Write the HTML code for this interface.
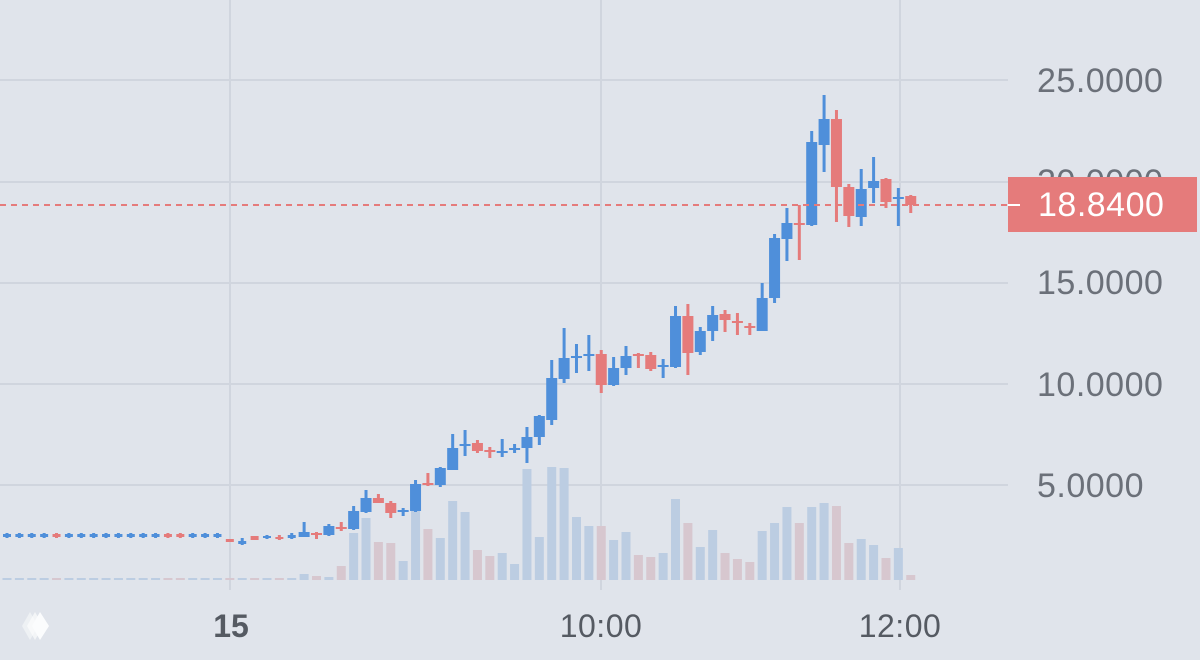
<!DOCTYPE html>
<html><head><meta charset="utf-8">
<style>
html,body{margin:0;padding:0;background:#e0e4eb;}
svg{display:block;}
text{font-family:"Liberation Sans",sans-serif;}
</style></head>
<body>
<svg id="c" width="1200" height="660" xmlns="http://www.w3.org/2000/svg">
<rect width="1200" height="660" fill="#e0e4eb"/>
<g stroke="#d0d5de" stroke-width="2">
<line x1="0" y1="80" x2="1008" y2="80"/>
<line x1="0" y1="182" x2="1008" y2="182"/>
<line x1="0" y1="283" x2="1008" y2="283"/>
<line x1="0" y1="384" x2="1008" y2="384"/>
<line x1="0" y1="485" x2="1008" y2="485"/>
<line x1="230" y1="0" x2="230" y2="590"/>
<line x1="601" y1="0" x2="601" y2="590"/>
<line x1="900" y1="0" x2="900" y2="590"/>
</g>
<g id="vol"></g>
<g id="cnd"></g>
<line x1="0" y1="205" x2="1008" y2="205" stroke="#e57b7b" stroke-width="2" stroke-dasharray="6,5"/>
<g fill="#6b7079" font-size="34" letter-spacing="0.5">
<text x="1037" y="92">25.0000</text>
<text x="1037" y="193">20.0000</text>
<text x="1037" y="294">15.0000</text>
<text x="1037" y="396">10.0000</text>
<text x="1037" y="497">5.0000</text>
</g>
<rect x="1008" y="177" width="189" height="55" fill="#e57b7b"/>
<line x1="1008" y1="205" x2="1020" y2="205" stroke="#fff" stroke-width="2"/>
<text x="1038" y="216" fill="#fff" font-size="34" letter-spacing="0.5">18.8400</text>
<text x="231" y="637" fill="#555a62" font-size="32" font-weight="bold" text-anchor="middle">15</text>
<text x="601" y="637" fill="#555a62" font-size="32" letter-spacing="0.5" text-anchor="middle">10:00</text>
<text x="900" y="637" fill="#555a62" font-size="32" letter-spacing="0.5" text-anchor="middle">12:00</text>
<g fill="#fff" opacity="0.9">
<polygon points="30,612 38,626 30,640 22,626" opacity="0.5"/>
<polygon points="35,612 43,626 35,640 27,626" opacity="0.7"/>
<polygon points="40,612 49,626 40,640 32,626"/>
</g>
</svg>
<script>
var B="#4f8fda",R="#e57b7b",VB="#bccde2",VR="#d7c7cf";
var d=[];
var reds={4:1,13:1,14:1};
for(var i=0;i<18;i++){d.push([reds[i]?R:B,534,537,533,538]);}
d=d.concat([
[R,539,542,539,542],[B,541,544,538,545],[R,536,540,536,540],[B,536,538,535,539],[R,537,539,535,540],[B,535,538,533,539],
[B,532,537,522,537],[R,533,535,532,539],[B,526,535,524,536],[R,527,529,522,531],[B,511,529,506,530],[B,498,512,490,513],
[R,498,503,494,503],[R,503,513,501,518],[B,510,512,508,516],[B,484,511,480,512],[R,483,485,473,486],[B,468,485,467,487],
[B,448,470,434,470],[B,444,446,430,456],[R,443,451,440,453],[R,450,452,447,458],[B,451,453,439,457],[B,448,450,444,453],
[B,437,448,427,463],[B,416,437,415,445],[B,378,420,360,425],[B,358,379,328,383],[B,356,358,344,373],[B,354,356,335,371],
[R,354,385,350,393],[B,368,385,357,386],[B,356,368,346,375],[R,354,356,353,368],[R,355,369,352,371],[B,365,367,359,378],
[B,316,367,306,368],[R,316,353,304,375],[B,331,352,327,355],[B,315,331,306,341],[R,314,320,310,332],[R,321,323,313,335],
[R,326,328,323,335],[B,298,331,283,331],[B,238,298,234,303],[B,223,239,208,261],[R,223,225,205,260],[B,142,225,131,226],
[B,119,145,95,172],[R,119,187,110,222],[R,187,216,184,227],[B,189,217,169,226],[B,181,188,157,203],[R,179,202,178,208],
[B,197,199,188,226],[R,196,205,195,213]
]);
var v=[];
for(var i=0;i<24;i++)v.push(578);
v=v.concat([574,576,577,566,533,518,542,543,561,511,529,538,501,512,550,556,553,564,469,537,467,468,517,526,526,540,532,555,557,553,499,523,547,530,553,559,562,531,523,507,523,507,503,506,543,539,545,558,548,575]);
var ns="http://www.w3.org/2000/svg",gc=document.getElementById("cnd"),gv=document.getElementById("vol");
function r(g,x,y,w,h,f){var e=document.createElementNS(ns,"rect");e.setAttribute("x",x);e.setAttribute("y",y);e.setAttribute("width",w);e.setAttribute("height",Math.max(h,2));e.setAttribute("fill",f);g.appendChild(e);}
for(var i=0;i<d.length;i++){
 var x=7+12.38*i,c=d[i];
 var early=i<24;
 var bw=early?8:11;
 r(gc,x-1.5,c[3],3,c[4]-c[3],c[0]);
 r(gc,x-bw/2,c[1],bw,c[2]-c[1],c[0]);
 var vt=v[i];
 r(gv,x-4.5,vt,9,580-vt,c[0]==R?VR:VB);
}
</script>
</body></html>
